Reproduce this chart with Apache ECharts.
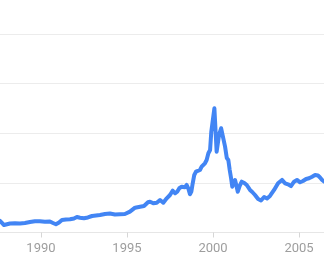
<!DOCTYPE html>
<html>
<head>
<meta charset="utf-8">
<script src="https://cdn.jsdelivr.net/npm/echarts@6/dist/echarts.min.js"></script>
<style>
html,body{margin:0;padding:0;background:#fff;}
#chart{width:324px;height:275px;}
</style>
</head>
<body>
<div id="chart"></div>
<script>
// decimal years
var years = [
1987.62,1987.73,1987.85,1987.97,1988.2,1988.49,1988.78,1989.07,1989.36,1989.65,1989.94,
1990.23,1990.52,1990.70,1990.87,1991.05,1991.22,1991.45,1991.69,1991.92,
1992.09,1992.27,1992.5,1992.73,1992.97,1993.2,1993.43,1993.72,1994.01,1994.3,1994.59,1994.88,
1995.17,1995.47,1995.76,1995.99,1996.22,1996.34,1996.53,1996.73,1996.92,1997.11,1997.31,1997.50,1997.66,1997.79,1997.92,
1998.04,1998.18,1998.27,1998.37,1998.47,1998.56,1998.66,1998.74,1998.82,1998.91,1999.01,1999.11,1999.24,1999.34,1999.44,1999.53,1999.63,1999.73,1999.83,1999.90,
1999.96,2000.08,2000.21,2000.35,2000.47,2000.58,2000.70,2000.80,2000.89,2000.97,
2001.05,2001.12,2001.20,2001.28,2001.35,2001.44,2001.55,2001.67,2001.82,2001.96,
2002.05,2002.15,2002.28,2002.44,2002.62,2002.79,2002.97,2003.14,2003.31,2003.55,2003.78,
2004.01,2004.19,2004.36,2004.53,2004.71,2004.88,2005.06,2005.23,2005.41,2005.58,2005.76,2005.93,
2006.10,2006.22,2006.34,2006.45
];
var values = [
464,444,302,323,363,371,363,383,423,452,452,
431,444,383,331,403,504,524,532,565,
625,593,573,605,665,685,706,746,766,726,734,746,
839,1000,1040,1068,1218,1242,1177,1202,1310,1202,1379,1512,1685,1580,1645,
1782,1847,1915,1822,1915,1782,1540,1645,1984,2318,2451,2492,2520,2653,2722,2790,2923,3193,3326,4064,
4000,5008,3258,3931,4201,4133,3459,3004,2923,2520,
2185,1847,1996,2117,1915,1645,1875,2048,1996,1915,
1835,1714,1633,1512,1351,1290,1431,1371,1472,1714,1984,
2117,1984,1943,1870,2048,2117,2024,2076,2157,2185,2250,2318,
2298,2218,2117,2056
];
var tickYears = [1990, 1995, 2000, 2005];

var data = years.map(function (y, i) { return [y, values[i]]; });

var chart = echarts.init(document.getElementById('chart'), null, {renderer: 'canvas'});
chart.setOption({
  animation: false,
  backgroundColor: '#ffffff',
  grid: {left: 0, right: 0, top: 34, bottom: 42.5, containLabel: false},
  xAxis: {
    type: 'value',
    min: 1987.62,
    max: 2006.45,
    axisLine: {show: true, lineStyle: {color: '#e6e6e6', width: 1}},
    axisTick: {show: true, customValues: tickYears, length: 5, lineStyle: {color: '#d6d6d6'}},
    axisLabel: {
      customValues: tickYears,
      formatter: function (v) { return String(v); },
      color: '#9e9e9e',
      fontSize: 13,
      fontFamily: 'Roboto, Arial, sans-serif',
      margin: 10
    },
    splitLine: {show: false}
  },
  yAxis: {
    type: 'value',
    min: 0,
    max: 8000,
    interval: 2000,
    axisLine: {show: false},
    axisTick: {show: false},
    axisLabel: {show: false},
    splitLine: {show: true, lineStyle: {color: '#ececec', width: 1}}
  },
  series: [{
    type: 'line',
    data: data,
    showSymbol: false,
    smooth: false,
    lineStyle: {color: '#4285f4', width: 4, join: 'round', cap: 'round'},
    itemStyle: {color: '#4285f4'}
  }]
});
</script>
</body>
</html>
